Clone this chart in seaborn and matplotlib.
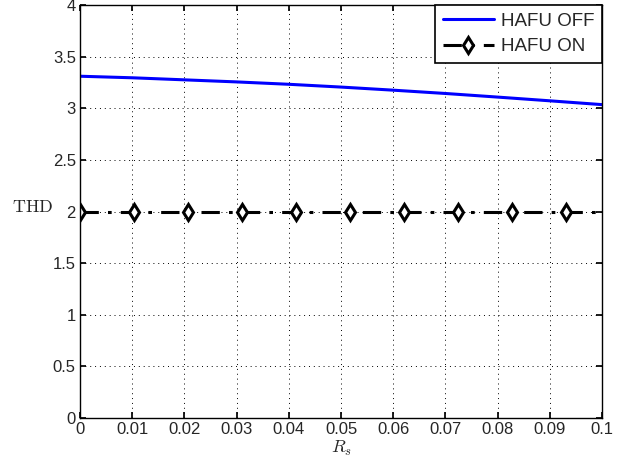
import numpy as np
import pandas as pd
import matplotlib
matplotlib.use("Agg")
import matplotlib.pyplot as plt
import seaborn as sns

rs_off = [0.0, 0.01, 0.02, 0.03, 0.04, 0.05, 0.06, 0.07, 0.08, 0.09, 0.1]
thd_off = [3.31, 3.295, 3.275, 3.255, 3.232, 3.205, 3.175, 3.143, 3.108, 3.072, 3.035]

rs_on = [0.0, 0.01034, 0.02069, 0.03103, 0.04138, 0.05172, 0.06207, 0.07241, 0.08276, 0.0931, 0.1]
thd_on = [2.0, 2.0, 2.0, 2.0, 2.0, 2.0, 2.0, 2.0, 2.0, 2.0, 2.0]

xticks = [0, 0.01, 0.02, 0.03, 0.04, 0.05, 0.06, 0.07, 0.08, 0.09, 0.1]
xticklabels = ["0", "0.01", "0.02", "0.03", "0.04", "0.05", "0.06", "0.07", "0.08", "0.09", "0.1"]
yticks = [0, 0.5, 1, 1.5, 2, 2.5, 3, 3.5, 4]
yticklabels = ["0", "0.5", "1", "1.5", "2", "2.5", "3", "3.5", "4"]

sns.set_theme(style="white")
plt.rcParams['font.family'] = ['Liberation Sans', 'DejaVu Sans']
plt.rcParams['mathtext.fontset'] = 'cm'

fig = plt.figure(figsize=(6.28, 4.70), dpi=100)
ax = fig.add_axes([0.1274, 0.1106, 0.8312, 0.8788])

df_off = pd.DataFrame({"Rs": rs_off, "THD": thd_off})
df_on = pd.DataFrame({"Rs": rs_on, "THD": thd_on})

sns.lineplot(data=df_off, x="Rs", y="THD", ax=ax, color="#0000ff", linewidth=2.2)
sns.lineplot(data=df_on, x="Rs", y="THD", ax=ax, color="black", linewidth=2.2,
             linestyle=(0, (6, 3, 1.2, 3)), marker="d", markersize=8, markerfacecolor="white",
             markeredgecolor="black", markeredgewidth=2.2,
             markevery=list(range(10)))

ax.set_xlim(0, 0.1)
ax.set_ylim(0, 4)
ax.set_xticks(xticks)
ax.set_xticklabels(xticklabels, fontsize=12)
ax.set_yticks(yticks)
ax.set_yticklabels(yticklabels, fontsize=12)
ax.tick_params(axis='both', direction='in', length=4, color='black', pad=3,
               bottom=True, left=True, top=True, right=True)
ax.grid(True, linestyle=(0, (1, 4)), color='black', linewidth=0.7)
for s in ax.spines.values():
    s.set_color('black')
    s.set_linewidth(1.0)

ax.set_xlabel(r"$R_s$", fontsize=13, labelpad=1)
ax.set_ylabel(r"$\mathrm{THD}$", fontsize=13, rotation=0, labelpad=4)
ax.yaxis.set_label_coords(-0.09, 0.49)

lines = ax.get_lines()
leg = ax.legend(handles=[lines[0], lines[1]], labels=["HAFU OFF", "HAFU ON"],
                loc="upper right", fontsize=13.5, frameon=True, fancybox=False,
                borderaxespad=0, handlelength=2.7, borderpad=0.4, labelspacing=0.45,
                handletextpad=0.4, framealpha=1)
leg.get_frame().set_edgecolor('black')
leg.get_frame().set_linewidth(1.2)

fig.savefig("out.png", dpi=100)
